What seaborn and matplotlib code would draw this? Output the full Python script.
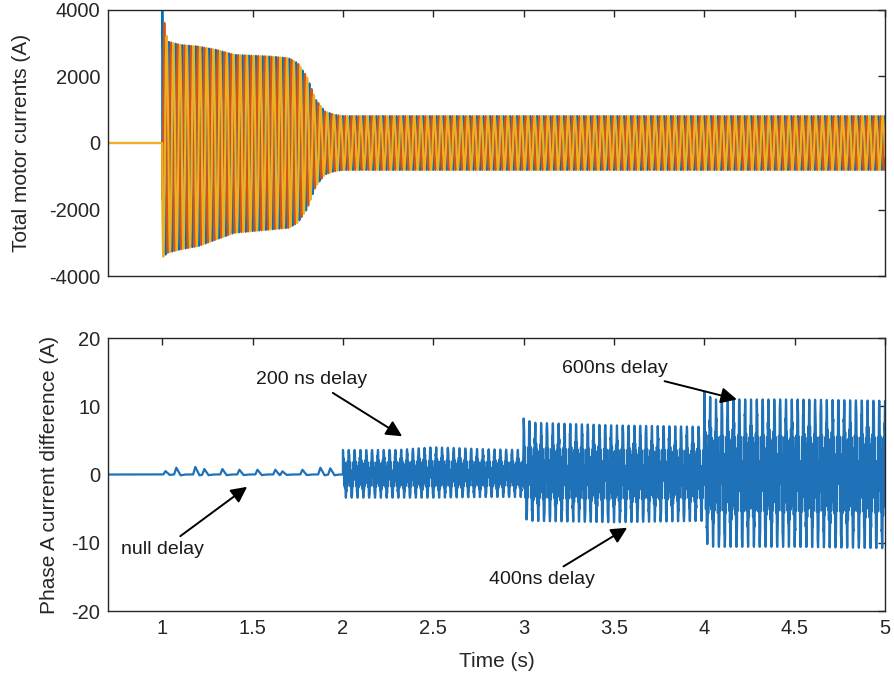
import numpy as np
import pandas as pd
import matplotlib
matplotlib.use("Agg")
import matplotlib.pyplot as plt
import seaborn as sns

# ---------------- data ----------------
# top panel: envelope of the three phase currents (A)
top_env_t = [1.0, 1.03, 1.1, 1.2, 1.3, 1.4, 1.6, 1.7, 1.75, 1.8, 1.85, 1.9, 1.95, 2.0, 5.0]
top_env_up = [4000, 3050, 2950, 2900, 2800, 2650, 2600, 2550, 2400, 2000, 1300, 950, 850, 810, 810]
top_env_lo = [-3450, -3300, -3200, -3100, -2900, -2700, -2600, -2550, -2400, -2000, -1300, -950, -850, -810, -810]
phase_names = ["Phase A", "Phase B", "Phase C"]
phase_colors = ["#0072BD", "#D95319", "#EDB120"]
top_freq = 27.0  # apparent oscillation frequency (Hz)

# bottom panel: phase A current difference (A)
bump_t = [1.006, 1.066, 1.171, 1.221, 1.321, 1.415, 1.515, 1.614, 1.653, 1.764, 1.863, 1.918]
bump_h = [0.5, 1.0, 1.1, 0.8, 0.8, 0.7, 0.7, 0.7, 0.5, 0.7, 1.0, 0.9]
diff_env_t = [2.0, 2.3, 2.5, 2.8, 2.999, 3.0, 3.05, 3.5, 3.999, 4.0, 4.05, 4.5, 5.0]
diff_env_up = [3.6, 3.6, 4.0, 3.7, 3.6, 8.2, 7.6, 7.2, 7.0, 12.1, 11.0, 11.0, 10.8]
diff_env_lo = [-3.4, -3.4, -3.4, -3.3, -3.3, -6.5, -6.8, -7.0, -6.8, -10.0, -10.6, -10.6, -10.8]
diff_freq = 31.0

annotations = [
    ("200 ns delay", (2.328, 5.6), (1.827, 13.9)),
    ("null delay", (1.47, -1.8), (0.77, -11.0)),
    ("400ns delay", (3.573, -7.8), (3.10, -15.4)),
    ("600ns delay", (4.18, 11.0), (3.507, 15.5)),
]
x_ticks = [1, 1.5, 2, 2.5, 3, 3.5, 4, 4.5, 5]
x_tick_labels = ["1", "1.5", "2", "2.5", "3", "3.5", "4", "4.5", "5"]
top_yticks = [-4000, -2000, 0, 2000, 4000]
bot_yticks = [-20, -10, 0, 10, 20]

# ---------------- build the traces ----------------
t = np.linspace(0.7, 5.0, 120001)
up = np.interp(t, top_env_t, top_env_up, left=0.0)
lo = np.interp(t, top_env_t, top_env_lo, left=0.0)
frames = []
for k, name in enumerate(phase_names):
    s = np.cos(2 * np.pi * top_freq * (t - 1.0) - k * 2 * np.pi / 3)
    y = np.where(s > 0, up * s, -lo * s)
    y[t < 1.0] = 0.0
    frames.append(pd.DataFrame({"t": t, "i": y, "phase": name}))
top_df = pd.concat(frames, ignore_index=True)

# bottom trace
yb = np.zeros_like(t)
for t0, h in zip(bump_t, bump_h):
    bx = [t0, t0 + 0.012, t0 + 0.035, t0 + 0.06]
    by = [0.0, h, -0.12 * h, 0.0]
    yb += np.interp(t, bx, by, left=0.0, right=0.0)
w = 2 * np.pi * diff_freq * (t - 2.0)
c = np.cos(w)
spike = np.sign(c) * np.abs(c) ** 3
fill = 0.5 * np.cos(7.3 * w)
shape = np.clip(spike + fill * (1 - np.abs(spike)), -1, 1)
dup = np.interp(t, diff_env_t, diff_env_up, left=0.0)
dlo = np.interp(t, diff_env_t, diff_env_lo, left=0.0)
yd = np.where(shape > 0, dup * shape, -dlo * shape)
yb = np.where(t >= 2.0, yd, yb)
bot_df = pd.DataFrame({"t": t, "d": yb})

# ---------------- plotting ----------------
sns.set_theme(style="white")
plt.rcParams["font.family"] = ["Liberation Sans", "DejaVu Sans"]
plt.rcParams["axes.unicode_minus"] = False
plt.rcParams["axes.edgecolor"] = "#262626"
plt.rcParams["axes.linewidth"] = 1.0

FS = 14.5
fig = plt.figure(figsize=(8.94, 6.79), dpi=100)
ax1 = fig.add_axes([0.1208, 0.5935, 0.8692, 0.3918])
ax2 = fig.add_axes([0.1208, 0.1001, 0.8692, 0.4021])

for name, col in zip(phase_names, phase_colors):
    sub = top_df[top_df["phase"] == name]
    sns.lineplot(data=sub, x="t", y="i", ax=ax1, color=col, lw=1.5,
                 estimator=None, sort=False, legend=False)

sns.lineplot(data=bot_df, x="t", y="d", ax=ax2, color="#1f72b8", lw=1.6,
             estimator=None, sort=False, legend=False)

for ax in (ax1, ax2):
    ax.set_xlim(0.7, 5.0)
    ax.set_xticks(x_ticks)
    ax.tick_params(direction="in", length=5, width=1, top=True, right=True,
                   labelsize=FS, colors="#262626", pad=5.5)
    for sp in ax.spines.values():
        sp.set_color("#262626")
        sp.set_linewidth(1.0)

ax1.set_ylim(-4000, 4000)
ax1.set_yticks(top_yticks)
ax1.set_xticklabels([])
ax1.set_xlabel("")
ax1.set_ylabel("Total motor currents (A)", fontsize=15, color="#262626", labelpad=13)

ax2.set_ylim(-20, 20)
ax2.set_yticks(bot_yticks)
ax2.set_xticklabels(x_tick_labels)
ax2.set_xlabel("Time (s)", fontsize=15, color="#262626", labelpad=10)
ax2.set_ylabel("Phase A current difference (A)", fontsize=15, color="#262626", labelpad=9)

for txt, xy, xytext in annotations:
    ha = "left" if txt == "null delay" else "center"
    ax2.annotate(txt, xy=xy, xytext=xytext, fontsize=14, color="#1a1a1a",
                 ha=ha, va="center",
                 arrowprops=dict(arrowstyle="-|>", color="black", lw=1.4,
                                 mutation_scale=24, shrinkA=2, shrinkB=0))

fig.savefig("out.png", dpi=100)
